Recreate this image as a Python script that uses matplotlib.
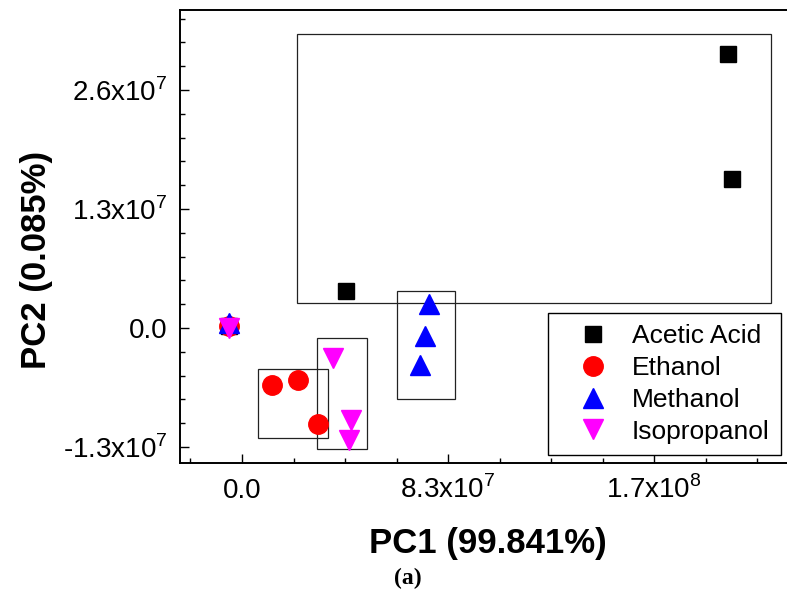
import matplotlib.pyplot as plt
from matplotlib.patches import Rectangle
from matplotlib.ticker import MultipleLocator

plt.rcParams['font.family'] = ['Liberation Sans', 'DejaVu Sans']
plt.rcParams['mathtext.fontset'] = 'custom'
plt.rcParams['mathtext.rm'] = 'Liberation Sans'

# PCA scores
acetic_x = [1.958e8, 1.974e8, 4.19e7, -5.2e6]
acetic_y = [2.993e7, 1.628e7, 4.04e6, 2.2e5]
ethanol_x = [1.197e7, 2.268e7, 3.05e7, -5.2e6]
ethanol_y = [-6.23e6, -5.71e6, -1.045e7, 2.2e5]
methanol_x = [7.52e7, 7.385e7, 7.18e7, -5.2e6]
methanol_y = [2.65e6, -8.7e5, -4.04e6, 5.5e5]
iso_x = [3.667e7, 4.39e7, 4.31e7, -5.2e6]
iso_y = [-3.24e6, -1.005e7, -1.22e7, 0.0]

# group boxes: (x0, x1, y0, y1)
boxes = [
    (2.204e7, 2.131e8, 2.76e6, 3.215e7),
    (6.257e7, 8.582e7, -7.79e6, 4.07e6),
    (6.33e6, 3.453e7, -1.205e7, -4.45e6),
    (3.034e7, 5.024e7, -1.325e7, -1.06e6),
]

xticks = [0, 8.3e7, 1.66e8]
xticklabels = ['0.0', r'8.3x10$^{7}$', r'1.7x10$^{8}$']
yticks = [-1.3e7, 0, 1.3e7, 2.6e7]
yticklabels = [r'-1.3x10$^{7}$', '0.0', r'1.3x10$^{7}$', r'2.6x10$^{7}$']

fig = plt.figure(figsize=(7.87, 5.96), dpi=100)
ax = fig.add_axes([180 / 787, 133 / 596, 620 / 787, 453.5 / 596])

for x0, x1, y0, y1 in boxes:
    ax.add_patch(Rectangle((x0, y0), x1 - x0, y1 - y0, fill=False,
                           edgecolor='#222222', lw=0.9, zorder=1))

ax.plot(acetic_x, acetic_y, 's', color='black', ms=11.5, ls='none',
        label='Acetic Acid', zorder=3)
ax.plot(ethanol_x, ethanol_y, 'o', color='red', ms=14, ls='none',
        label='Ethanol', zorder=3)
ax.plot(methanol_x, methanol_y, '^', color='blue', ms=15, ls='none',
        label='Methanol', zorder=3)
ax.plot(iso_x, iso_y, 'v', color='magenta', ms=15, ls='none',
        label='Isopropanol', zorder=3)

ax.set_xlim(-2.498e7, 2.248e8)
ax.set_ylim(-1.475e7, 3.48e7)
ax.set_xticks(xticks)
ax.set_xticklabels(xticklabels)
ax.set_yticks(yticks)
ax.set_yticklabels(yticklabels)
ax.xaxis.set_minor_locator(MultipleLocator(2.075e7))
ax.yaxis.set_minor_locator(MultipleLocator(2.6e6))
ax.tick_params(which='both', direction='in', top=False, right=False,
               labelsize=20, width=1)
ax.tick_params(which='major', length=6.5)
ax.tick_params(which='minor', length=3.5)
ax.tick_params(axis='y', pad=9)
ax.tick_params(axis='x', pad=25)
for lab in ax.get_xticklabels():
    lab.set_verticalalignment('baseline')
for sp in ax.spines.values():
    sp.set_linewidth(1.4)

ax.set_xlabel('PC1 (99.841%)', fontsize=25, fontweight='bold')
ax.set_ylabel('PC2 (0.085%)', fontsize=25, fontweight='bold')
ax.xaxis.set_label_coords((488 - 180) / 620, (463 - 553) / 453.5)
ax.xaxis.label.set_verticalalignment('baseline')
ax.yaxis.set_label_coords((37 - 180) / 620, (463 - 260) / 453.5)
ax.yaxis.label.set_verticalalignment('center')

leg = ax.legend(loc='upper left', bbox_to_anchor=(0.594, 0.331),
                borderaxespad=0, fontsize=19, frameon=True, fancybox=False,
                edgecolor='black', framealpha=1, handletextpad=0.2,
                labelspacing=0.3, borderpad=0.42, handlelength=2.55)
leg.get_frame().set_linewidth(1.0)

fig.text(408 / 787, 1 - 578 / 596, '(a)', fontsize=17, fontweight='bold',
         family=['Liberation Serif', 'DejaVu Serif'], ha='center', va='center')

fig.savefig('out.png', dpi=100)
